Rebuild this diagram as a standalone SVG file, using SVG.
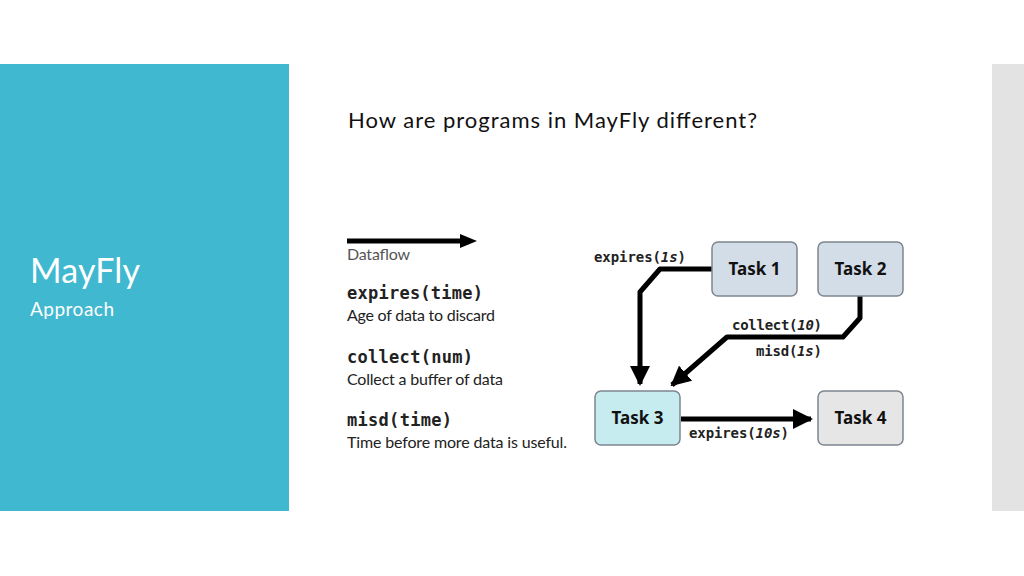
<svg xmlns="http://www.w3.org/2000/svg" width="1024" height="576" viewBox="0 0 1024 576">
<defs>
<style>
.task{stroke:#7d8590;stroke-width:1.5}
.tl{font-family:"Noto Sans","Liberation Sans",sans-serif;font-weight:bold;font-size:17px;fill:#111;text-anchor:middle}
.code{font-family:"DejaVu Sans Mono",monospace;font-weight:bold;fill:#222}
.desc{font-family:Lato,"Open Sans",sans-serif;font-size:16px;fill:#222}
.edge{fill:none;stroke:#000;stroke-width:5;stroke-linejoin:round}
</style>
<marker id="ah" viewBox="0 0 10 10" refX="9" refY="5" markerWidth="4" markerHeight="4" markerUnits="strokeWidth" orient="auto">
<path d="M0,0 L10,5 L0,10 z" fill="#000"/>
</marker>
</defs>
<rect width="1024" height="576" fill="#fff"/>
<rect x="0" y="64" width="289" height="447" fill="#40b8d0"/>
<rect x="992" y="64" width="32" height="447" fill="#e3e3e3"/>
<text x="30" y="283" font-family="Lato, Open Sans, sans-serif" font-size="34" fill="#fff" textLength="110">MayFly</text>
<text x="30" y="316" font-family="Lato, Open Sans, sans-serif" font-size="19" fill="#fff" textLength="84">Approach</text>
<text x="348" y="128" font-family="Lato, Open Sans, sans-serif" font-size="22" fill="#111" textLength="409">How are programs in MayFly different?</text>

<g id="legend">
<path d="M347,241 H462" stroke="#000" stroke-width="5"/>
<path d="M460,234 L477,241 L460,248 z" fill="#000"/>
<text x="347" y="260" class="desc" style="fill:#555" textLength="63">Dataflow</text>
<text x="347" y="299" class="code" font-size="17" textLength="136">expires(time)</text>
<text x="347" y="321" class="desc" textLength="148">Age of data to discard</text>
<text x="347" y="363" class="code" font-size="17" textLength="126">collect(num)</text>
<text x="347" y="385" class="desc" textLength="156">Collect a buffer of data</text>
<text x="347" y="426" class="code" font-size="17" textLength="105">misd(time)</text>
<text x="347" y="448" class="desc" textLength="220">Time before more data is useful.</text>
</g>

<g id="connectors">
<path class="edge" d="M712,269 H660 L640,292 V384" marker-end="url(#ah)"/>
<path class="edge" d="M860,296 V318 L843,337 H727 L672,385" marker-end="url(#ah)"/>
<path class="edge" d="M681,419 H811" marker-end="url(#ah)"/>
<text x="594" y="262" class="code" font-size="14" textLength="92">expires(<tspan font-style="italic">1s</tspan>)</text>
<text x="732" y="330" class="code" font-size="14" textLength="90">collect(<tspan font-style="italic">10</tspan>)</text>
<text x="756" y="356" class="code" font-size="14" textLength="66">misd(<tspan font-style="italic">1s</tspan>)</text>
<text x="689" y="438" class="code" font-size="14" textLength="100">expires(<tspan font-style="italic">10s</tspan>)</text>
</g>

<g id="task1"><rect class="task" x="712" y="242" width="85" height="54" rx="6" fill="#d3dde8"/><text class="tl" x="754.5" y="275">Task 1</text></g>
<g id="task2"><rect class="task" x="818" y="242" width="85" height="54" rx="6" fill="#d3dde8"/><text class="tl" x="860.5" y="275">Task 2</text></g>
<g id="task3"><rect class="task" x="595" y="391" width="85" height="54" rx="6" fill="#c6ecef"/><text class="tl" x="637.5" y="424">Task 3</text></g>
<g id="task4"><rect class="task" x="818" y="391" width="85" height="54" rx="6" fill="#e6e6e6"/><text class="tl" x="860.5" y="424">Task 4</text></g>
</svg>
